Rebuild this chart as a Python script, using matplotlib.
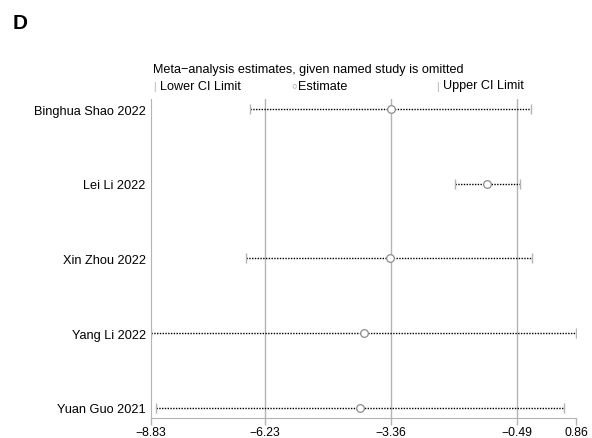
import matplotlib
matplotlib.use("Agg")
import matplotlib.pyplot as plt

plt.rcParams['font.family'] = ['Liberation Sans', 'DejaVu Sans']

# study omitted, estimate and CI
studies = ['Binghua Shao 2022', 'Lei Li 2022', 'Xin Zhou 2022', 'Yang Li 2022', 'Yuan Guo 2021']
lower = [-6.57, -1.90, -6.65, -8.83, -8.70]
estimate = [-3.36, -1.17, -3.39, -3.98, -4.06]
upper = [-0.17, -0.42, -0.14, 0.86, 0.57]

xticks = [-8.83, -6.23, -3.36, -0.49, 0.86]
xticklabels = ['\u22128.83', '\u22126.23', '\u22123.36', '\u22120.49', '0.86']
ref_lines = [-6.23, -3.36, -0.49]

fig = plt.figure(figsize=(5.92, 4.39), dpi=100)
ax = fig.add_axes([0.2545, 0.0456, 0.7190, 0.7266])

grey = '#b4b4b4'
for v in ref_lines:
    ax.axvline(v, color=grey, lw=1.0, zorder=1)

y = list(range(1, len(studies) + 1))
for i in range(len(studies)):
    ax.plot([lower[i], upper[i]], [y[i], y[i]], color='black', lw=1.0,
            linestyle=(0, (1, 1)), zorder=2)
ax.plot(lower, y, linestyle='none', marker='|', markersize=7, color=grey, mew=1.0, zorder=3)
ax.plot(upper, y, linestyle='none', marker='|', markersize=7, color=grey, mew=1.0, zorder=3)
ax.plot(estimate, y, linestyle='none', marker='o', markersize=5.5, mfc='white',
        mec='#8c8c8c', mew=0.9, zorder=4)

ax.set_xlim(-8.83, 0.86)
ax.set_ylim(5.14, 0.86)
ax.set_xticks(xticks)
ax.set_xticklabels(xticklabels, fontsize=8.7)
ax.set_yticks(y)
ax.set_yticklabels(studies, fontsize=9.2)
ax.tick_params(axis='y', length=0, pad=3.5)
ax.tick_params(axis='x', length=5, color=grey, width=1.0, pad=0.5)

for s in ['top', 'right']:
    ax.spines[s].set_visible(False)
ax.spines['left'].set_color(grey)
ax.spines['bottom'].set_color(grey)

fig.text(153 / 592, 1 - 70.5 / 439, 'Meta\u2212analysis estimates, given named study is omitted',
         fontsize=9.1, va='center', ha='left')
fig.text(153.5 / 592, 1 - 87 / 439, '|', fontsize=7.5, color=grey, va='center', ha='left')
fig.text(160 / 592, 1 - 86.5 / 439, 'Lower CI Limit', fontsize=9.1, va='center', ha='left')
fig.text(291 / 592, 1 - 87 / 439, '\u25cb', fontsize=6.5, color='#8c8c8c', va='center', ha='left')
fig.text(298 / 592, 1 - 86.5 / 439, 'Estimate', fontsize=9.1, va='center', ha='left')
fig.text(436 / 592, 1 - 87 / 439, '|', fontsize=7.5, color=grey, va='center', ha='left')
fig.text(443 / 592, 1 - 86.5 / 439, 'Upper CI Limit', fontsize=9.1, va='center', ha='left')

fig.text(13 / 592, 1 - 23.5 / 439, 'D', fontsize=15, fontweight='bold', va='center', ha='left')

fig.savefig('out.png', dpi=100)
